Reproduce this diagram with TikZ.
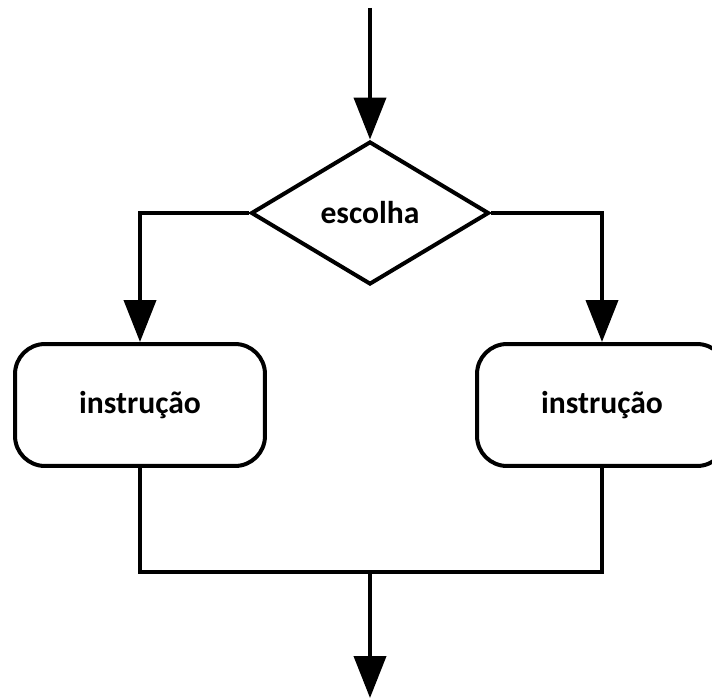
\documentclass[tikz,border=0pt]{standalone}
\usepackage{fontspec}
\setmainfont{Carlito}
\usetikzlibrary{shapes.geometric, arrows.meta, positioning}

\begin{document}
\begin{tikzpicture} [x=0.02cm, y=-0.02cm, line width=0.08cm,
    label/.style = {font=\bfseries\fontsize{18}{21}\selectfont},
    decision/.style = {diamond, draw, label, inner sep=0pt, minimum width=4.76cm, minimum height=2.86cm},
    block/.style = {rectangle, draw, label, rounded corners=0.6cm, minimum width=5cm, minimum height=2.44cm},
    flow/.style = {-{Triangle[length=0.84cm, width=0.64cm]}}]
    \useasboundingbox (0,0) rectangle (712,699);

    \coordinate (start) at (370,8);
    \node (choice) [decision] at (370,213) {escolha};
    \node (left) [block] at (140,405) {instrução};
    \node (right) [block] at (602,405) {instrução};
    \coordinate (join) at (370,572);
    \coordinate (end) at (370,698);

    \draw [flow] (start) -- (choice.north);
    \draw [flow] (choice.west) -| (left.north);
    \draw [flow] (choice.east) -| (right.north);
    \draw (left.south) |- (join);
    \draw (right.south) |- (join);
    \draw [flow] (join) -- (end);

\end{tikzpicture}
\end{document}
